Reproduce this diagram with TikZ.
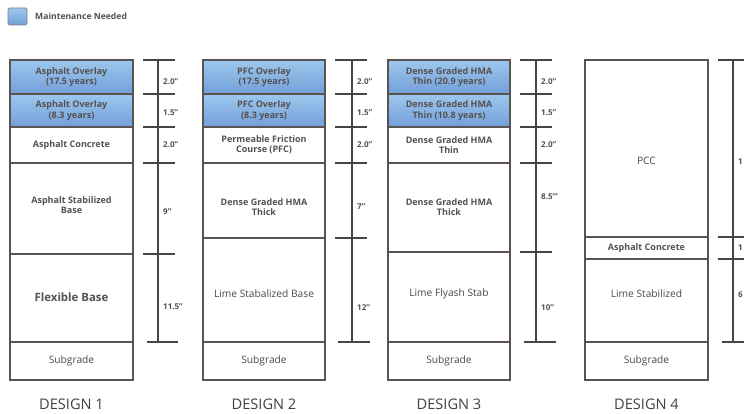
\documentclass[tikz,border=0pt]{standalone}
\usepackage{fontspec}
\setmainfont{Open Sans}
\definecolor{linegray}{HTML}{5A5352}
\definecolor{tickgray}{HTML}{4A4444}
\definecolor{txt}{HTML}{565050}
\definecolor{bluetop}{HTML}{9CC7EC}
\definecolor{bluemid}{HTML}{D3E8F7}
\definecolor{bluebot}{HTML}{739FDA}
\begin{document}
\begin{tikzpicture}[x=1pt,y=-1pt,
  cellline/.style={draw=linegray, line width=1.1pt},
  bluecell/.style={top color=bluetop, middle color=bluemid, bottom color=bluebot},
  tickline/.style={draw=tickgray, line width=1.1pt},
  basetick/.style={draw=tickgray, line width=1.6pt},
  lbl/.style={font=\fontsize{9}{10.4}\selectfont\bfseries, text=txt, align=center, inner sep=0pt},
  biglbl/.style={font=\fontsize{11.4}{13}\selectfont\bfseries, text=txt, align=center, inner sep=0pt},
  sublbl/.style={font=\fontsize{10.2}{11.4}\selectfont, text=txt!90!black, align=center, inner sep=0pt},
  dim/.style={font=\fontsize{8}{9}\selectfont\bfseries, text=txt, anchor=west, inner sep=0pt},
  title/.style={font=\fontsize{14.6}{16}\selectfont, text=txt!80!black, inner sep=0pt}]
\useasboundingbox (0,0) rectangle (744,414);
\fill[white] (0,0) rectangle (744,414);

% legend
\shade[bluecell, draw=gray, line width=0.8pt, rounded corners=1.5pt] (8,8) rectangle (27,25);
\node[font=\fontsize{8.6}{10}\selectfont\bfseries, text=txt, anchor=west, inner sep=0pt] (legend) at (35,16.5) {Maintenance Needed};

% ---------------- DESIGN 1 ----------------
\shade[bluecell] (10,60) rectangle (133,94);
\shade[bluecell] (10,94) rectangle (133,127);
\foreach \y in {94,127,163,254,342} \draw[cellline] (10,\y) -- (133,\y);
\draw[cellline] (10,60) rectangle (133,380);
\node[lbl] (a1) at (71.5,77) {Asphalt Overlay\\(17.5 years)};
\node[lbl] (a2) at (71.5,110.5) {Asphalt Overlay\\(8.3 years)};
\node[lbl] (a3) at (71.5,145) {Asphalt Concrete};
\node[lbl] (a4) at (71.5,205) {Asphalt Stabilized\\Base};
\node[biglbl] (a5) at (71.5,297) {Flexible Base};
\node[sublbl] (a6) at (71.5,361) {Subgrade};
\node[title] (t1) at (71.5,404) {DESIGN 1};
\draw[tickline] (158,60) -- (158,342);
\foreach \y in {60,94,127,163,254} \draw[tickline] (143,\y) -- (175,\y);
\draw[basetick] (147,342) -- (178,342);
\node[dim] (d11) at (163,82) {2.0"};
\node[dim] (d12) at (163,113) {1.5"};
\node[dim] (d13) at (163,145) {2.0"};
\node[dim] (d14) at (163,212) {9"};
\node[dim] (d15) at (163,307) {11.5"};

% ---------------- DESIGN 2 ----------------
\shade[bluecell] (203,60) rectangle (325,94);
\shade[bluecell] (203,94) rectangle (325,127);
\foreach \y in {94,127,163,238,342} \draw[cellline] (203,\y) -- (325,\y);
\draw[cellline] (203,60) rectangle (325,380);
\node[lbl] (b1) at (264,77) {PFC Overlay\\(17.5 years)};
\node[lbl] (b2) at (264,110.5) {PFC Overlay\\(8.3 years)};
\node[lbl] (b3) at (264,145) {Permeable Friction\\Course (PFC)};
\node[lbl] (b4) at (264,207) {Dense Graded HMA\\Thick};
\node[sublbl] (b5) at (264,294) {Lime Stabalized Base};
\node[sublbl] (b6) at (264,361) {Subgrade};
\node[title] (t2) at (264,404) {DESIGN 2};
\draw[tickline] (352,60) -- (352,342);
\foreach \y in {60,94,127,163,238} \draw[tickline] (335,\y) -- (367,\y);
\draw[basetick] (338,342) -- (370,342);
\node[dim] (d21) at (357,82) {2.0"};
\node[dim] (d22) at (357,113) {1.5"};
\node[dim] (d23) at (357,145) {2.0"};
\node[dim] (d24) at (357,207) {7"};
\node[dim] (d25) at (357,308) {12"};

% ---------------- DESIGN 3 ----------------
\shade[bluecell] (388,60) rectangle (510,94);
\shade[bluecell] (388,94) rectangle (510,127);
\foreach \y in {94,127,163,252,342} \draw[cellline] (388,\y) -- (510,\y);
\draw[cellline] (388,60) rectangle (510,380);
\node[lbl] (c1) at (449,77) {Dense Graded HMA\\Thin (20.9 years)};
\node[lbl] (c2) at (449,110.5) {Dense Graded HMA\\Thin (10.8 years)};
\node[lbl] (c3) at (449,145) {Dense Graded HMA\\Thin};
\node[lbl] (c4) at (449,207) {Dense Graded HMA\\Thick};
\node[sublbl] (c5) at (449,294) {Lime Flyash Stab};
\node[sublbl] (c6) at (449,361) {Subgrade};
\node[title] (t3) at (449,404) {DESIGN 3};
\draw[tickline] (536,60) -- (536,342);
\foreach \y in {60,94,127,163,252} \draw[tickline] (520,\y) -- (552,\y);
\draw[basetick] (524,342) -- (556,342);
\node[dim] (d31) at (541,82) {2.0"};
\node[dim] (d32) at (541,113) {1.5"};
\node[dim] (d33) at (541,145) {2.0"};
\node[dim] (d34) at (541,197) {8.5"'};
\node[dim] (d35) at (541,308) {10"};

% ---------------- DESIGN 4 ----------------
\foreach \y in {237,259,342} \draw[cellline] (585,\y) -- (708,\y);
\draw[cellline] (585,60) rectangle (708,380);
\node[sublbl] (e1) at (646.5,161) {PCC};
\node[lbl] (e2) at (646.5,248) {Asphalt Concrete};
\node[sublbl] (e3) at (646.5,294) {Lime Stabilized};
\node[sublbl] (e4) at (646.5,361) {Subgrade};
\node[title] (t4) at (646.5,404) {DESIGN 4};
\draw[tickline] (733,60) -- (733,342);
\foreach \y in {60,237,259} \draw[tickline] (718,\y) -- (750,\y);
\draw[basetick] (722,342) -- (750,342);
\node[dim] (d41) at (738,162) {1};
\node[dim] (d42) at (738,248) {1};
\node[dim] (d43) at (738,295) {6};
\end{tikzpicture}
\end{document}
